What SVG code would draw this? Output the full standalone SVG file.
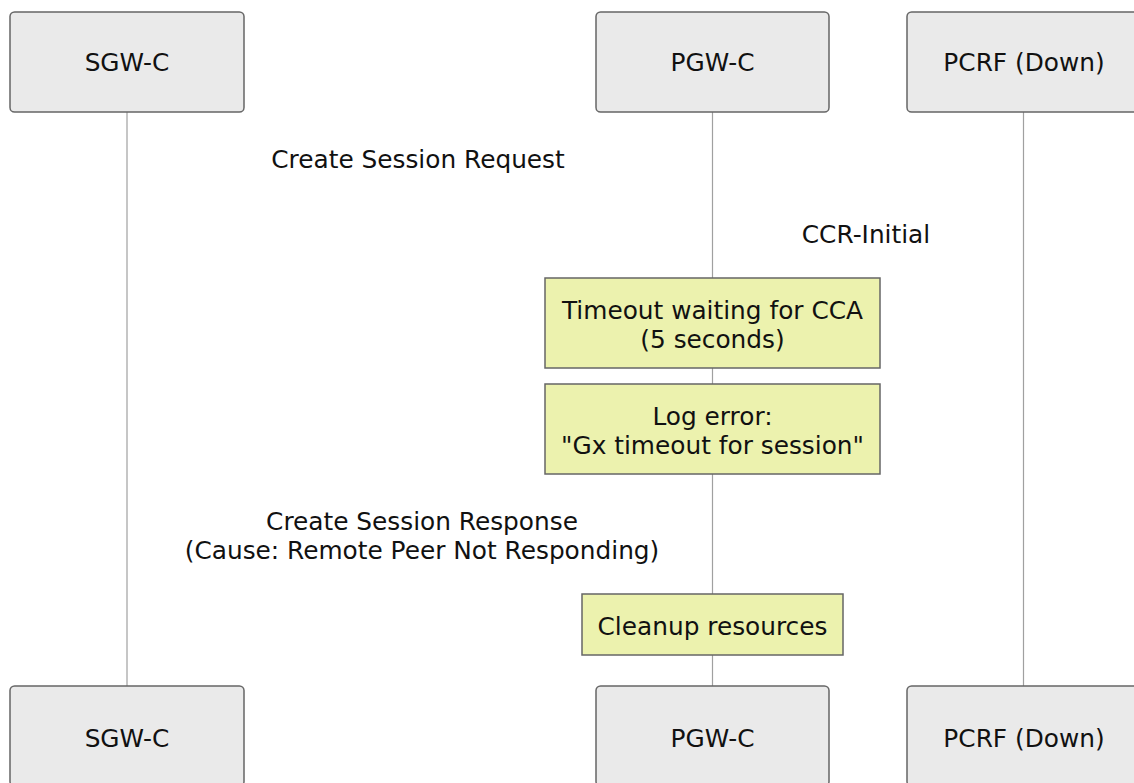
<svg xmlns="http://www.w3.org/2000/svg" width="1134" height="783" viewBox="0 0 1134 783">
<style>
.bg{fill:#ffffff}
.actor{fill:#eaeaea;stroke:#666666;stroke-width:1.5}
.note{fill:#ecf2ae;stroke:#666666;stroke-width:1.5}
.life{stroke:#a0a0a0;stroke-width:1.2;fill:none}
text{font-family:"DejaVu Sans","Liberation Sans",sans-serif;font-size:24.8px;fill:#111111;text-anchor:middle}
</style>
<rect class="bg" x="0" y="0" width="1134" height="783"/>
<g id="connectors">
<line class="life" x1="127" y1="112" x2="127" y2="686"/>
<line class="life" x1="712.5" y1="112" x2="712.5" y2="686"/>
<line class="life" x1="1023.5" y1="112" x2="1023.5" y2="686"/>
</g>
<g id="msg-create-session-request"><text x="418" y="168">Create Session Request</text></g>
<g id="msg-ccr-initial"><text x="866" y="243">CCR-Initial</text></g>
<g id="msg-create-session-response"><text x="422" y="530">Create Session Response</text><text x="422" y="559">(Cause: Remote Peer Not Responding)</text></g>
<g id="actor-sgwc-top"><rect class="actor" x="10" y="12" width="234" height="100" rx="4.6"/><text x="127" y="71">SGW-C</text></g>
<g id="actor-pgwc-top"><rect class="actor" x="596" y="12" width="233" height="100" rx="4.6"/><text x="712.5" y="71">PGW-C</text></g>
<g id="actor-pcrf-top"><rect class="actor" x="907" y="12" width="234" height="100" rx="4.6"/><text x="1024" y="71">PCRF (Down)</text></g>
<g id="note-timeout"><rect class="note" x="545" y="278" width="335" height="90"/><text x="712.5" y="319">Timeout waiting for CCA</text><text x="712.5" y="348">(5 seconds)</text></g>
<g id="note-log"><rect class="note" x="545" y="384" width="335" height="90"/><text x="712.5" y="425">Log error:</text><text x="712.5" y="454">"Gx timeout for session"</text></g>
<g id="note-cleanup"><rect class="note" x="582" y="594" width="261" height="61"/><text x="712.5" y="635">Cleanup resources</text></g>
<g id="actor-sgwc-bottom"><rect class="actor" x="10" y="686" width="234" height="100" rx="4.6"/><text x="127" y="747">SGW-C</text></g>
<g id="actor-pgwc-bottom"><rect class="actor" x="596" y="686" width="233" height="100" rx="4.6"/><text x="712.5" y="747">PGW-C</text></g>
<g id="actor-pcrf-bottom"><rect class="actor" x="907" y="686" width="234" height="100" rx="4.6"/><text x="1024" y="747">PCRF (Down)</text></g>
</svg>
